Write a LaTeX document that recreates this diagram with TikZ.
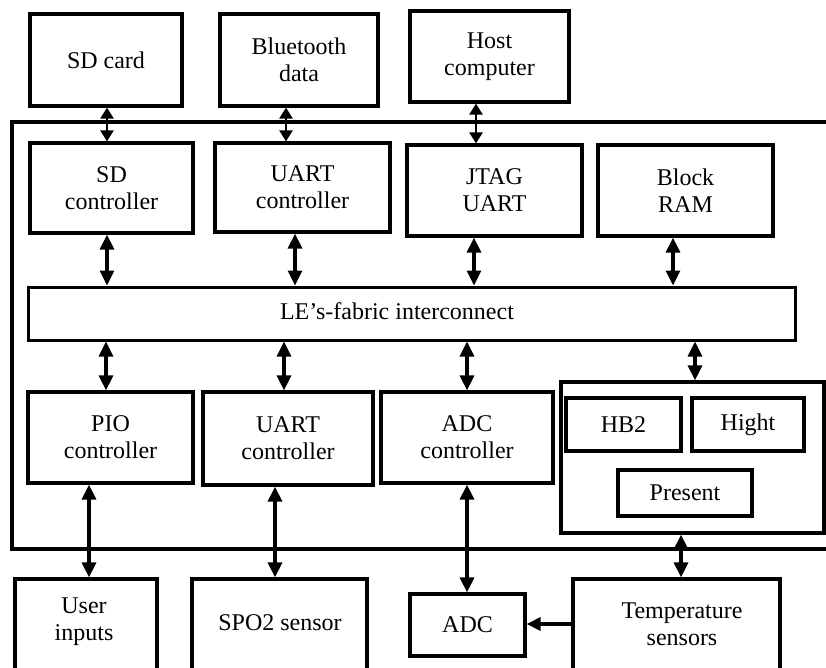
\documentclass[tikz,border=0pt]{standalone}
\usepackage{fontspec}
\setmainfont{Liberation Serif}
\usetikzlibrary{arrows.meta}
\newcommand\mybox[7][]{\node[box,#1,minimum width={#4pt-#2pt},minimum height={#5pt-#3pt}] (#6) at ({(#2+#4)/2},{(#3+#5)/2}) {#7};}
\begin{document}
\begin{tikzpicture}[x=1pt,y=-1pt,
  box/.style={draw, line width=3.2pt, inner sep=0pt, align=center, font=\fontsize{24}{27}\selectfont},
  lbl/.style={inner sep=0pt, align=center, font=\fontsize{24}{27}\selectfont},
  dbl/.style={line width=3.2pt, {Triangle[width=14pt,length=15pt]}-{Triangle[width=14pt,length=15pt]}},
  dbls/.style={line width=2.4pt, {Triangle[width=13pt,length=11pt]}-{Triangle[width=13pt,length=11pt]}},
  one/.style={line width=3.2pt, -{Triangle[width=13pt,length=14pt]}}]
\useasboundingbox (0,0) rectangle (826,667);
% outer container
\draw[line width=3.2pt] (840,122) -- (12,122) -- (12,549) -- (840,549);
% top row
\mybox{30}{14}{182}{106}{sdcard}{SD card}
\mybox{220}{14}{378}{106}{bt}{Bluetooth\\data}
\mybox{410}{11}{569}{102}{host}{Host\\computer}
% second row
\mybox{30}{143}{193}{233}{sdc}{SD\\controller}
\mybox{215}{143}{390}{232}{uartc}{UART\\controller}
\mybox{407}{145}{582}{236}{jtag}{JTAG\\UART}
\mybox{598}{145}{773}{236}{bram}{Block\\RAM}
% fabric
\mybox[line width=3pt]{28}{287}{795}{340}{fab}{}
\node[lbl] (fabt) at (397,311) {LE’s-fabric interconnect};
% third row
\mybox{28}{392}{193}{483}{pio}{PIO\\controller}
\mybox{203}{392}{373}{485}{uart2}{UART\\controller}
\mybox{381}{392}{553}{483}{adcc}{ADC\\controller}
\mybox{561}{382}{824}{533}{grp}{}
\mybox{566}{398}{681}{451}{hb}{HB2}
\mybox{692}{398}{804}{451}{hight}{Hight}
\mybox{618}{470}{752}{516}{pres}{Present}
% bottom row
\mybox{15}{579}{157}{700}{user}{}
\node[lbl] (usert) at (84,622) {User\\inputs};
\mybox{192}{579}{367}{700}{spo}{}
\node[lbl] (spot) at (280,623) {SPO2 sensor};
\mybox{410}{594}{525}{656}{adc}{ADC}
\mybox{573}{579}{780}{700}{temp}{}
\node[lbl] (tempt) at (682,624) {Temperature\\sensors};
% arrows
\draw[dbls] (107,0 |- sdcard.south) -- (107,0 |- sdc.north);
\draw[dbls] (286,0 |- bt.south) -- (286,0 |- uartc.north);
\draw[dbls] (476,0 |- host.south) -- (476,0 |- jtag.north);
\draw[dbl] (107,0 |- sdc.south) -- (107,0 |- fab.north);
\draw[dbl] (295,0 |- uartc.south) -- (295,0 |- fab.north);
\draw[dbl] (474,0 |- jtag.south) -- (474,0 |- fab.north);
\draw[dbl] (673,0 |- bram.south) -- (673,0 |- fab.north);
\draw[dbl] (106,0 |- fab.south) -- (106,0 |- pio.north);
\draw[dbl] (284,0 |- fab.south) -- (284,0 |- uart2.north);
\draw[dbl] (467,0 |- fab.south) -- (467,0 |- adcc.north);
\draw[dbl] (695,0 |- fab.south) -- (695,0 |- grp.north);
\draw[dbl] (89,0 |- pio.south) -- (89,0 |- user.north);
\draw[dbl] (275,0 |- uart2.south) -- (275,0 |- spo.north);
\draw[dbl] (467,0 |- adcc.south) -- (467,0 |- adc.north);
\draw[dbl] (681,0 |- grp.south) -- (681,0 |- temp.north);
\draw[one] (temp.west |- 0,624) -- (adc.east |- 0,624);
\end{tikzpicture}
\end{document}
